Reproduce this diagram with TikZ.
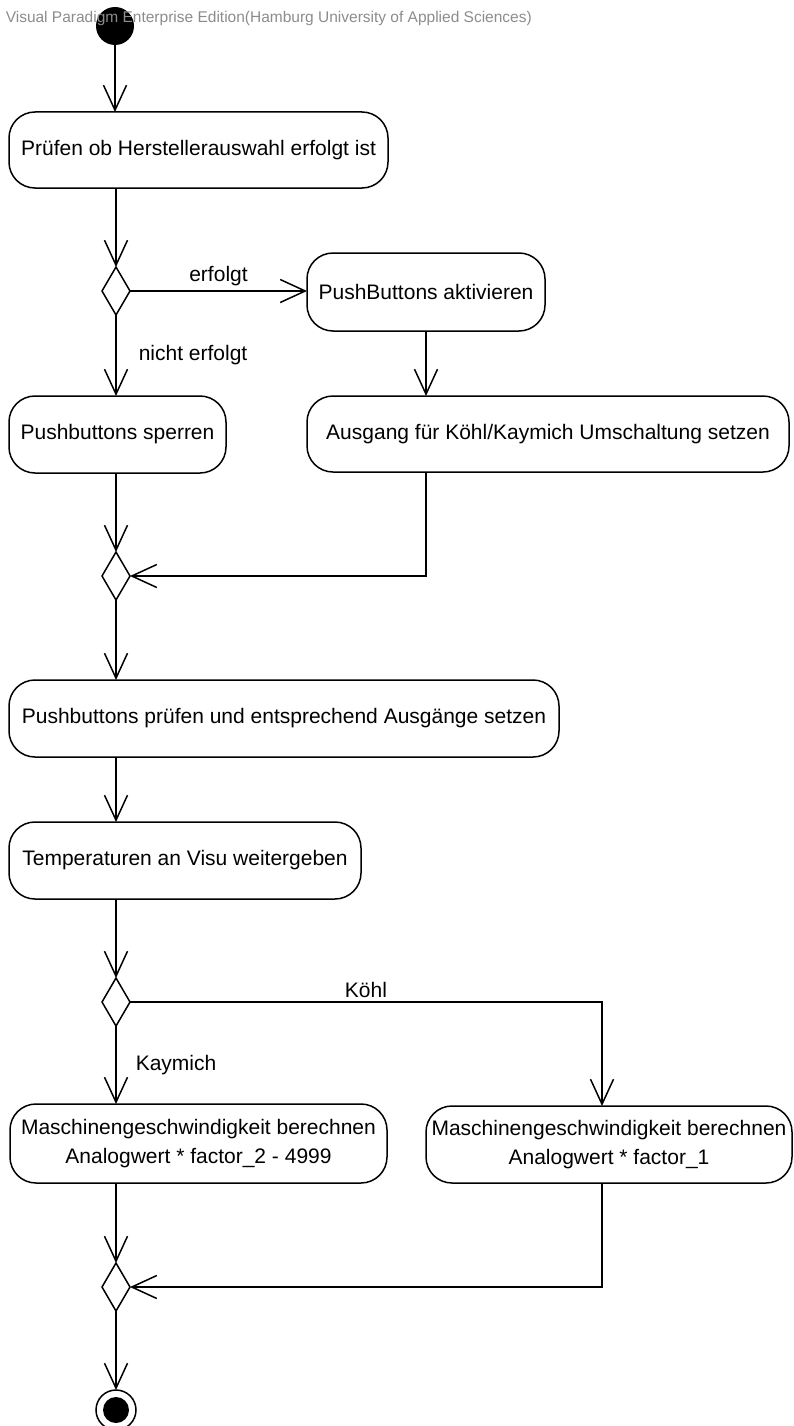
\documentclass[tikz,border=0pt]{standalone}
\usepackage{fontspec}
\setmainfont{Liberation Sans}
\usetikzlibrary{shapes.geometric,arrows.meta}
\definecolor{wm}{RGB}{140,140,140}
\begin{document}
\begin{tikzpicture}[x=1pt,y=-1pt,line width=1.5pt,
  box/.style={draw,rounded corners=26pt,anchor=north west,inner sep=0pt,outer sep=0pt,align=center,font=\fontsize{21}{29}\selectfont},
  dec/.style={draw,diamond,inner sep=0pt,outer sep=0pt,minimum width=28pt,minimum height=48pt},
  arr/.style={-{Straight Barb[length=25pt,width=23pt]}},
  lbl/.style={font=\fontsize{21}{25}\selectfont,inner sep=0pt}]
\useasboundingbox (0,0) rectangle (794,1426);
% nodes
\node[circle,fill,minimum size=38pt,inner sep=0pt,outer sep=0pt] (start) at (115,26) {};
\node[box,minimum width=379pt,minimum height=76pt] (box1) at (9,112) {Prüfen ob Herstellerauswahl erfolgt ist};
\node[dec] (dia1) at (116,291) {};
\node[box,minimum width=238pt,minimum height=78pt] (box2) at (307,253) {PushButtons aktivieren};
\node[box,minimum width=217pt,minimum height=77pt] (box3) at (9,396) {Pushbuttons sperren};
\node[box,minimum width=482pt,minimum height=76pt] (box4) at (307,396) {Ausgang für Köhl/Kaymich Umschaltung setzen};
\node[dec] (dia2) at (116,576) {};
\node[box,minimum width=550pt,minimum height=77pt] (box5) at (9,680) {Pushbuttons prüfen und entsprechend Ausgänge setzen};
\node[box,minimum width=352pt,minimum height=77pt] (box6) at (9,822) {Temperaturen an Visu weitergeben};
\node[dec] (dia3) at (116,1002) {};
\node[box,minimum width=377pt,minimum height=79pt] (box7) at (10,1104) {Maschinengeschwindigkeit berechnen\\Analogwert * factor\_2 - 4999};
\node[box,minimum width=366pt,minimum height=77pt] (box8) at (426,1106) {Maschinengeschwindigkeit berechnen\\Analogwert * factor\_1};
\coordinate (k8t) at (602,1106);
\coordinate (k8b) at (602,1183);
\node[dec] (dia4) at (116,1287) {};
\node[circle,draw,minimum size=40pt,inner sep=0pt,outer sep=0pt] (end) at (116,1410) {};
\fill (end.center) circle[radius=13pt];
% connectors
\draw[arr] (start) -- (start |- box1.north);
\draw[arr] (box1.south -| dia1) -- (dia1);
\draw[arr] (dia1) -- (dia1 -| box2.west) node[lbl,midway,above=4pt] {erfolgt};
\draw[arr] (dia1) -- (dia1 |- box3.north) node[lbl,midway,right=22pt] {nicht erfolgt};
\draw[arr] (box2) -- (box2 |- box4.north);
\draw[arr] (box3.south -| dia2) -- (dia2);
\draw[arr] (box4.south -| box2) |- (dia2);
\draw[arr] (dia2) -- (dia2 |- box5.north);
\draw[arr] (box5.south -| dia2) -- (dia2 |- box6.north);
\draw[arr] (box6.south -| dia3) -- (dia3);
\draw[arr] (dia3) -- (dia3 |- box7.north) node[lbl,midway,right=19pt] {Kaymich};
\draw[arr] (dia3) -| (k8t) node[lbl,pos=0.25,above=4pt] {Köhl};
\draw[arr] (box7.south -| dia4) -- (dia4);
\draw[arr] (k8b) |- (dia4);
\draw[arr] (dia4) -- (end);
% watermark
\node[anchor=base west,inner sep=0pt,text=wm,font=\fontsize{15.5}{18}\selectfont] (wmark) at (5,23) {Visual Paradigm Enterprise Edition(Hamburg University of Applied Sciences)};
\end{tikzpicture}
\end{document}
